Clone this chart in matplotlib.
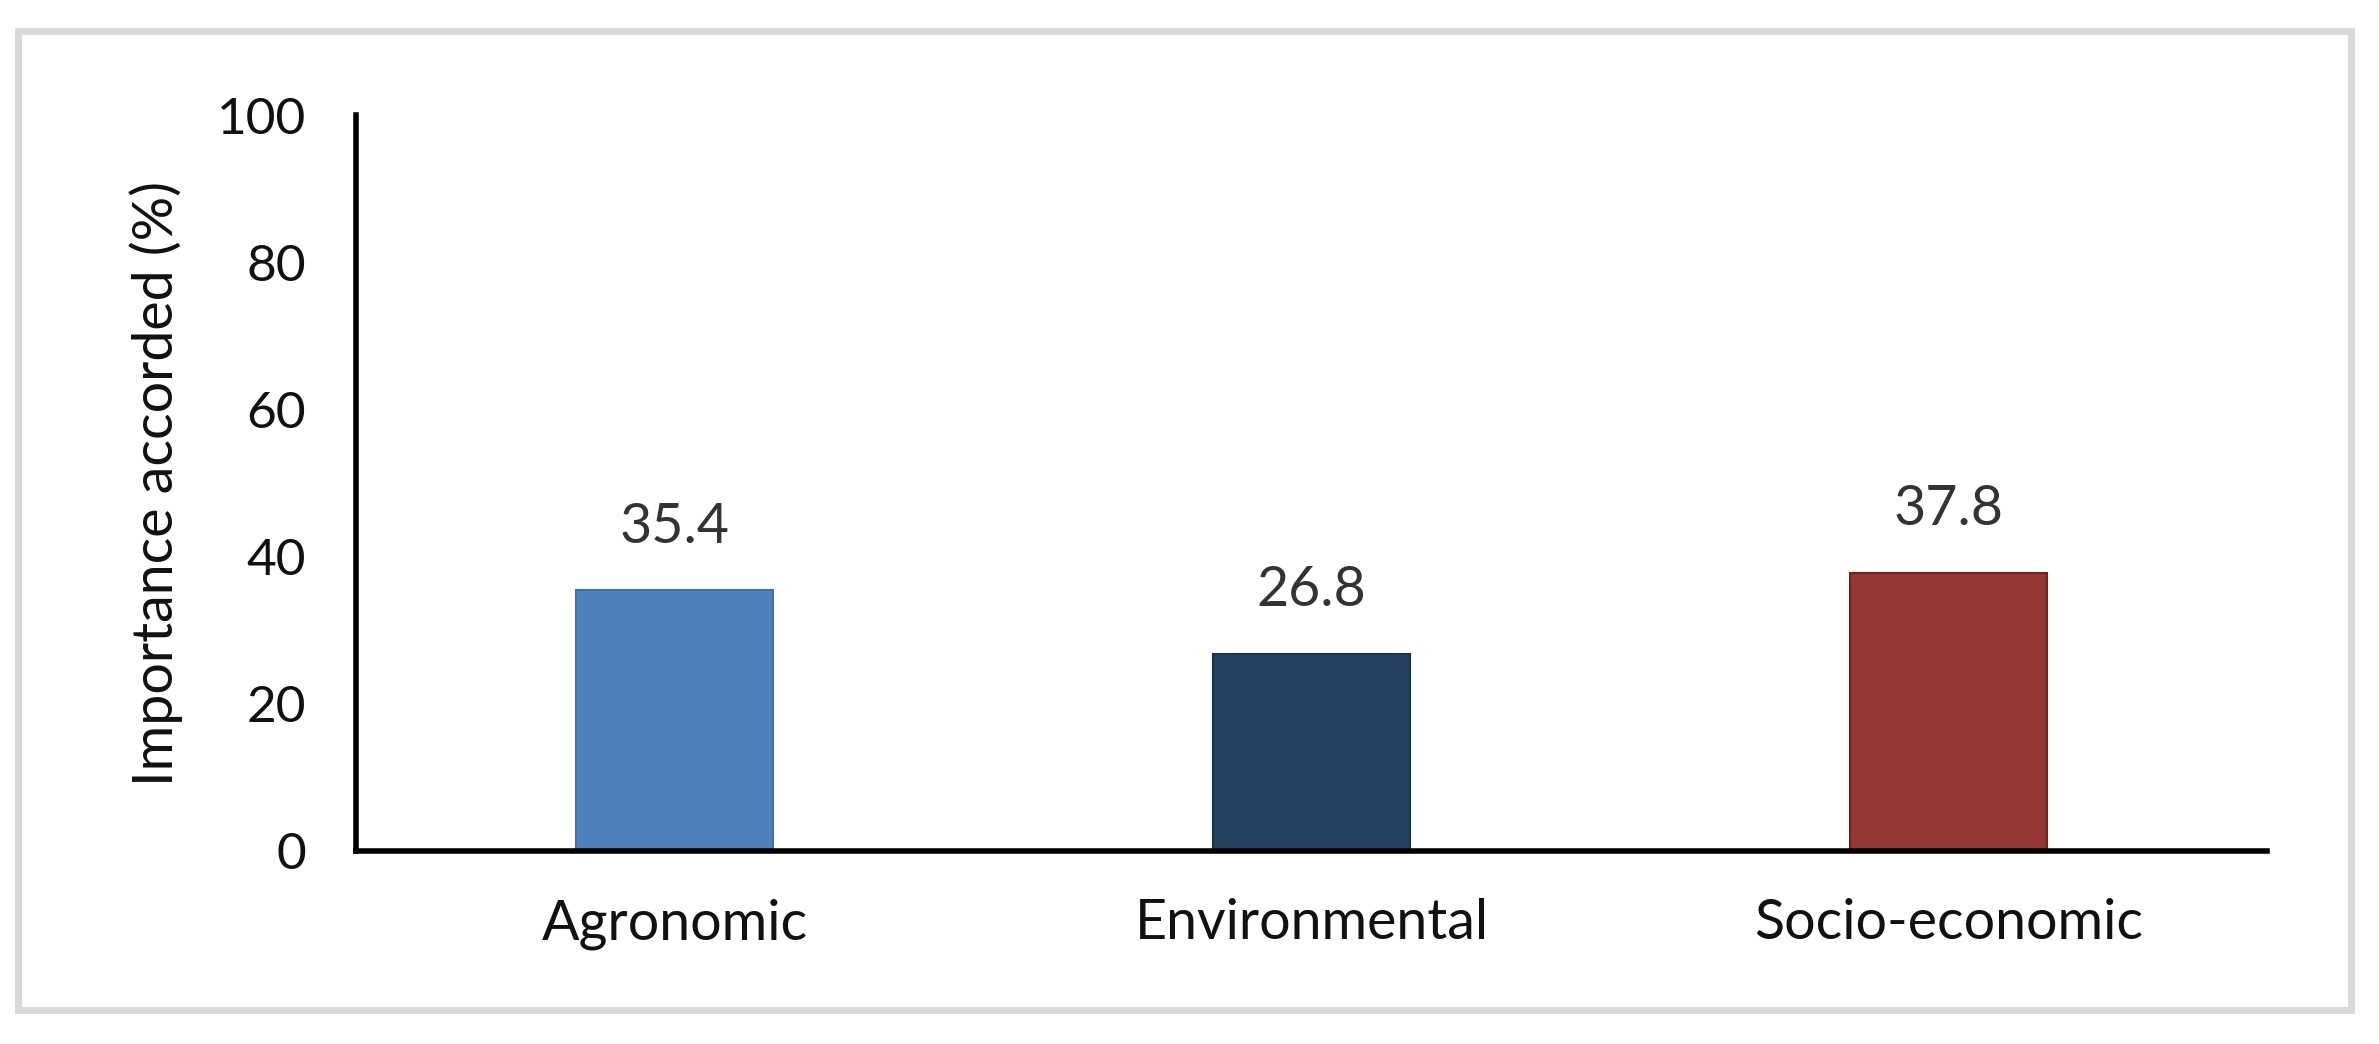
import matplotlib
matplotlib.use("Agg")
import matplotlib.pyplot as plt
from matplotlib.patches import Rectangle

# data
CATEGORIES = ['Agronomic', 'Environmental', 'Socio-economic']
IMPORTANCE = [35.4, 26.8, 37.8]
BAR_COLORS = ['#4f81bd', '#254061', '#953735']
EDGE_COLORS = ['#3e70ab', '#1c3350', '#7a1f1d']
Y_TICKS = [0, 20, 40, 60, 80, 100]

plt.rcParams['font.family'] = ['Lato', 'DejaVu Sans']

fig = plt.figure(figsize=(23.79, 10.44), dpi=100)
ax = fig.add_axes([0.1496, 0.1849, 0.8034, 0.7049])

x = list(range(len(CATEGORIES)))
bars = ax.bar(x, IMPORTANCE, width=0.31, color=BAR_COLORS,
              edgecolor=EDGE_COLORS, linewidth=1.5, zorder=2)

# value labels above the bars
for b, v in zip(bars, IMPORTANCE):
    ax.annotate(f'{v:.1f}', (b.get_x() + b.get_width() / 2, v),
                xytext=(0, 27), textcoords='offset points',
                ha='center', va='bottom', fontsize=40, color='#333333')

ax.set_xlim(-0.5, 2.5)
ax.set_ylim(0, 100)
ax.set_xticks(x)
ax.set_xticklabels(CATEGORIES, fontsize=40)
ax.set_yticks(Y_TICKS)
ax.tick_params(axis='both', length=0, colors='#111111')
ax.tick_params(axis='y', labelsize=37, pad=36)
ax.tick_params(axis='x', pad=34)
ax.set_ylabel('Importance accorded (%)', fontsize=40, color='#111111', labelpad=24)

for side in ['top', 'right']:
    ax.spines[side].set_visible(False)
for side in ['left', 'bottom']:
    ax.spines[side].set_linewidth(4)
    ax.spines[side].set_color('black')

# light gray frame around the whole chart
frame = Rectangle((18 / 2379, 1 - 1010 / 1044), (2351 - 18) / 2379, (1010 - 31) / 1044,
                  transform=fig.transFigure, fill=False, edgecolor='#d9d9d9',
                  linewidth=5, zorder=0)
fig.patches.append(frame)

fig.savefig('out.png', dpi=100, facecolor='white')
